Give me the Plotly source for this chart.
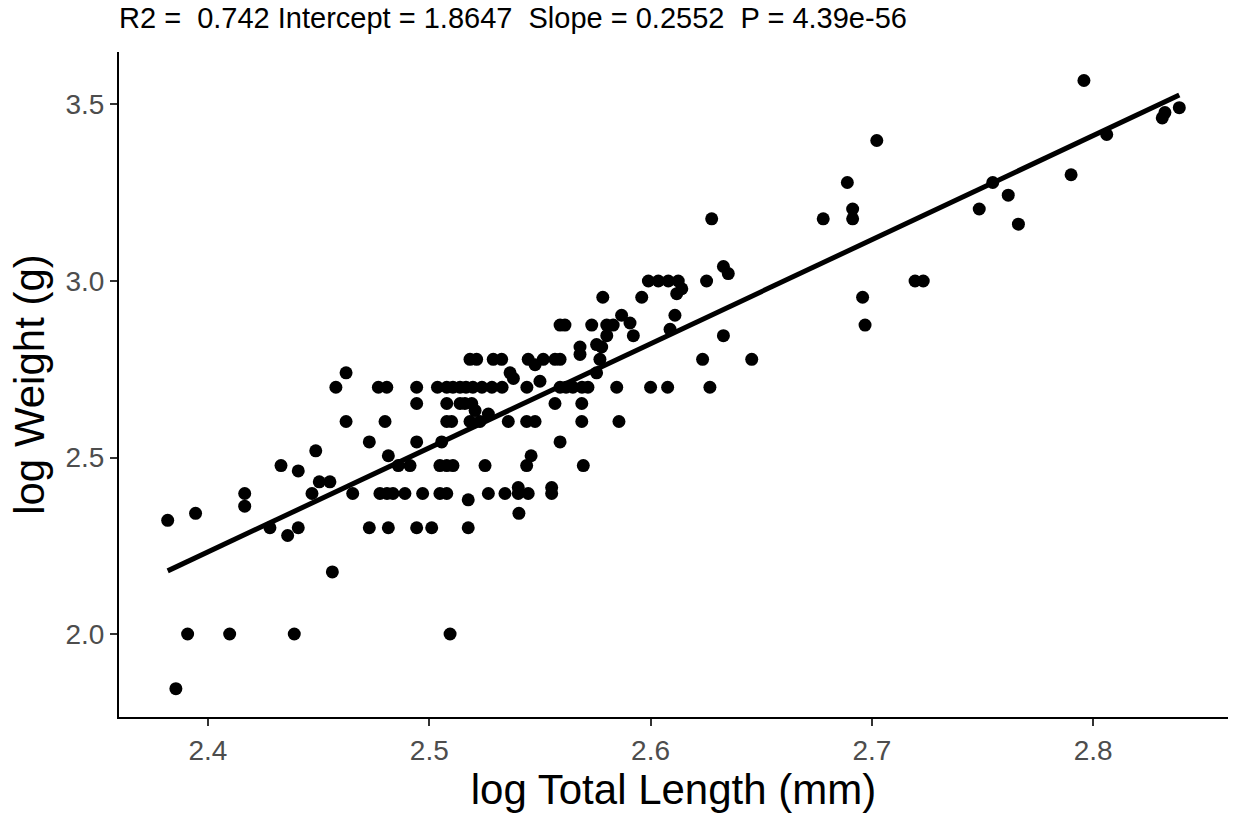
import numpy as np
import plotly.graph_objects as go

# log10 total length (mm)
log_length = [
    2.3818, 2.3855, 2.3908, 2.3944, 2.4098, 2.4166, 2.4166, 2.4280, 2.4330, 2.4360,
    2.4390, 2.4408, 2.4408, 2.4470, 2.4487, 2.4503, 2.4551, 2.4562, 2.4578, 2.4624,
    2.4624, 2.4654, 2.4729, 2.4729, 2.4770, 2.4808, 2.4800, 2.4777, 2.4809, 2.4836,
    2.4815, 2.4815, 2.4860, 2.4890, 2.4913, 2.4943, 2.4943, 2.4943, 2.4943, 2.4970,
    2.5011, 2.5037, 2.5056, 2.5048, 2.5048, 2.5079, 2.5079, 2.5079, 2.5079, 2.5101,
    2.5107, 2.5094, 2.5079,
    2.5107, 2.5139, 2.5166, 2.5197, 2.5238, 2.5283, 2.5329,
    2.5139, 2.5161, 2.5192, 2.5207, 2.5267, 2.5184, 2.5229, 2.5176, 2.5176, 2.5252,
    2.5267,
    2.5184, 2.5214, 2.5289, 2.5327, 2.5447, 2.5515, 2.5568, 2.5591,
    2.5478, 2.5365, 2.5380, 2.5500, 2.5441,
    2.5591, 2.5618, 2.5649, 2.5690, 2.5717,
    2.5357, 2.5440, 2.5478, 2.5689, 2.5568, 2.5689, 2.5591, 2.5460, 2.5440, 2.5696,
    2.5342, 2.5402, 2.5402, 2.5447, 2.5553, 2.5553, 2.5405,
    2.5591, 2.5613, 2.5734, 2.5802, 2.5831, 2.5907, 2.5922, 2.5802, 2.5756, 2.5779,
    2.5681, 2.5681, 2.5771, 2.5756, 2.5784, 2.5869, 2.5847, 2.5857, 2.5960,
    2.5990, 2.6035, 2.6080, 2.6125, 2.6141, 2.6118, 2.6253, 2.6110, 2.6088,
    2.6000, 2.6077, 2.6268, 2.6235, 2.6457, 2.6329, 2.6329, 2.6351, 2.6276,
    2.6780, 2.6889, 2.6913, 2.6913, 2.6958, 2.6969, 2.7022, 2.7195, 2.7232,
    2.7485, 2.7546, 2.7616, 2.7662, 2.7900, 2.7958, 2.8061, 2.8312, 2.8324, 2.8389,
]

# log10 weight (g)
log_weight = [
    2.322, 1.845, 2.000, 2.342, 2.000, 2.398, 2.362, 2.301, 2.477, 2.279,
    2.000, 2.462, 2.301, 2.398, 2.519, 2.431, 2.431, 2.176, 2.699, 2.740,
    2.602, 2.398, 2.544, 2.301, 2.699, 2.699, 2.602, 2.398, 2.398, 2.398,
    2.505, 2.301, 2.477, 2.398, 2.477, 2.699, 2.653, 2.544, 2.301, 2.398,
    2.301, 2.699, 2.544, 2.477, 2.398, 2.398, 2.477, 2.653, 2.602, 2.602,
    2.477, 2.000, 2.699,
    2.699, 2.699, 2.699, 2.699, 2.699, 2.699, 2.699,
    2.653, 2.653, 2.653, 2.633, 2.623, 2.602, 2.602, 2.380, 2.301, 2.477,
    2.398,
    2.778, 2.778, 2.778, 2.778, 2.778, 2.778, 2.778, 2.778,
    2.763, 2.740, 2.724, 2.716, 2.699,
    2.699, 2.699, 2.699, 2.699, 2.699,
    2.602, 2.602, 2.602, 2.602, 2.653, 2.653, 2.544, 2.505, 2.477, 2.477,
    2.398, 2.398, 2.415, 2.398, 2.398, 2.415, 2.342,
    2.875, 2.875, 2.875, 2.875, 2.875, 2.881, 2.845, 2.845, 2.820, 2.813,
    2.813, 2.792, 2.778, 2.740, 2.954, 2.903, 2.699, 2.602, 2.954,
    3.000, 3.000, 3.000, 3.000, 2.978, 2.964, 3.000, 2.903, 2.863,
    2.699, 2.699, 2.699, 2.778, 2.778, 2.845, 3.041, 3.021, 3.176,
    3.176, 3.279, 3.204, 3.176, 2.954, 2.875, 3.398, 3.000, 3.000,
    3.204, 3.279, 3.243, 3.161, 3.301, 3.568, 3.415, 3.462, 3.477, 3.491,
]

x_ticks = [2.4, 2.5, 2.6, 2.7, 2.8]
y_ticks = [2.0, 2.5, 3.0, 3.5]

title_text = ("R2 =\u00a0\u00a00.742 Intercept = 1.8647\u00a0\u00a0Slope = 0.2552"
              "\u00a0\u00a0P = 4.39e-56")

x = np.array(log_length)
y = np.array(log_weight)
slope, intercept = np.polyfit(x, y, 1)
line_x = np.array([x.min(), x.max()])
line_y = intercept + slope * line_x

fig = go.Figure()
fig.add_trace(go.Scatter(
    x=x, y=y, mode="markers",
    marker=dict(color="black", size=13, line=dict(width=0)),
    showlegend=False, hoverinfo="skip",
))
fig.add_trace(go.Scatter(
    x=line_x, y=line_y, mode="lines",
    line=dict(color="black", width=5),
    showlegend=False, hoverinfo="skip",
))

font_family = "Liberation Sans, Arial, sans-serif"

fig.update_layout(
    width=1235, height=814,
    margin=dict(l=119, r=7, t=52, b=97),
    paper_bgcolor="white", plot_bgcolor="white",
    font=dict(family=font_family, color="black"),
    title=dict(
        text=title_text, x=0, xref="paper", xanchor="left",
        y=1 - 18 / 814, yref="container", yanchor="middle",
        font=dict(size=29, color="black", family=font_family),
    ),
    xaxis=dict(
        range=[2.3598, 2.8609],
        tickvals=x_ticks, ticktext=[f"{v:.1f}" for v in x_ticks],
        showgrid=False, zeroline=False,
        showline=True, linecolor="black", linewidth=2,
        ticks="outside", ticklen=7, tickwidth=2, tickcolor="#333333",
        tickfont=dict(size=28, color="#4D4D4D"),
        title=dict(text="log Total Length (mm)", font=dict(size=42, color="black"), standoff=6),
    ),
    yaxis=dict(
        range=[1.7649, 3.6487],
        tickvals=y_ticks, ticktext=[f"{v:.1f}" for v in y_ticks],
        showgrid=False, zeroline=False,
        showline=True, linecolor="black", linewidth=2,
        ticks="outside", ticklen=7, tickwidth=2, tickcolor="#333333",
        tickfont=dict(size=28, color="#4D4D4D"),
        title=dict(text="log Weight (g)", font=dict(size=42, color="black"), standoff=8),
    ),
)

fig.write_html("out.html")
